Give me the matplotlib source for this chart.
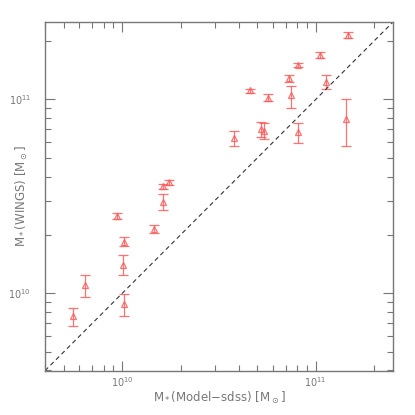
import matplotlib
matplotlib.use("Agg")
import matplotlib.pyplot as plt
from matplotlib.ticker import LogLocator, NullFormatter

# Data
x_sdss = [5.55e9, 6.42e9, 1.024e10, 1.012e10, 1.02e10, 9.36e9, 1.452e10, 1.617e10,
          1.617e10, 1.748e10, 3.77e10, 5.24e10, 5.41e10, 4.56e10, 5.67e10, 7.43e10,
          8.1e10, 7.28e10, 8.1e10, 1.058e11, 1.468e11, 1.136e11, 1.44e11]
y_wings = [7.63e9, 1.104e10, 8.77e9, 1.40e10, 1.836e10, 2.51e10, 2.15e10, 2.94e10,
           3.56e10, 3.73e10, 6.36e10, 7.05e10, 6.86e10, 1.113e11, 1.02e11, 1.049e11,
           6.81e10, 1.284e11, 1.504e11, 1.694e11, 2.15e11, 1.235e11, 7.97e10]
y_low = [6.77e9, 9.6e9, 7.63e9, 1.239e10, 1.757e10, 2.43e10, 2.04e10, 2.675e10,
         3.45e10, 3.62e10, 5.78e10, 6.42e10, 6.26e10, 1.083e11, 9.88e10, 9.06e10,
         5.97e10, 1.229e11, 1.47e11, 1.63e11, 2.07e11, 1.135e11, 5.73e10]
y_high = [8.43e9, 1.248e10, 9.88e9, 1.573e10, 1.94e10, 2.59e10, 2.25e10, 3.24e10,
          3.68e10, 3.85e10, 6.86e10, 7.63e10, 7.58e10, 1.135e11, 1.062e11, 1.172e11,
          7.58e10, 1.33e11, 1.54e11, 1.758e11, 2.23e11, 1.343e11, 1.008e11]

xlim = (10**9.6, 10**11.4)
ylim = (10**9.6, 10**11.4)

fig = plt.figure(figsize=(4.15, 4.15), dpi=100)
ax = fig.add_axes([45/415, (415-370.7)/415, 348/415, 348.7/415])

red = '#ff5a5a'
yerr = [[y - lo for y, lo in zip(y_wings, y_low)],
        [hi - y for y, hi in zip(y_wings, y_high)]]
ax.errorbar(x_sdss, y_wings, yerr=yerr, fmt='^', mfc='none', mec=red,
            ecolor=red, ms=5, mew=0.9, elinewidth=0.9, capsize=3.3, capthick=0.9,
            alpha=0.85)

ax.plot(xlim, ylim, ls=(0, (4, 3)), color='#333333', lw=0.8)

ax.set_xscale('log')
ax.set_yscale('log')
ax.set_xlim(*xlim)
ax.set_ylim(*ylim)

gray = '#777777'
for s in ax.spines.values():
    s.set_color(gray)
    s.set_linewidth(1.0)
ax.tick_params(which='both', direction='in', top=True, right=True, colors=gray,
               labelcolor='#777777', labelsize=7)
ax.tick_params(which='major', length=7, width=0.8)
ax.tick_params(which='minor', length=4, width=0.8)
ax.tick_params(axis='x', which='major', pad=3)
ax.tick_params(axis='y', which='major', pad=10)
ax.xaxis.set_major_locator(LogLocator(base=10, numticks=10))
ax.yaxis.set_major_locator(LogLocator(base=10, numticks=10))
ax.xaxis.set_minor_locator(LogLocator(base=10, subs=range(2, 10), numticks=20))
ax.yaxis.set_minor_locator(LogLocator(base=10, subs=range(2, 10), numticks=20))
ax.xaxis.set_minor_formatter(NullFormatter())
ax.yaxis.set_minor_formatter(NullFormatter())

ax.set_xlabel(r'M$_*$(Model$-$sdss) [M$_\odot$]', color='#777777', fontsize=8.5)
ax.set_ylabel(r'M$_*$(WINGS) [M$_\odot$]', color='#777777', fontsize=8.5)
ax.xaxis.set_label_coords(0.5, -(398 - 370.7) / 348.7, transform=ax.transAxes)
ax.yaxis.set_label_coords(-(45 - 22) / 348, 0.5, transform=ax.transAxes)
ax.xaxis.label.set_verticalalignment('center')
ax.yaxis.label.set_verticalalignment('center')

fig.savefig('out.png', dpi=100)
